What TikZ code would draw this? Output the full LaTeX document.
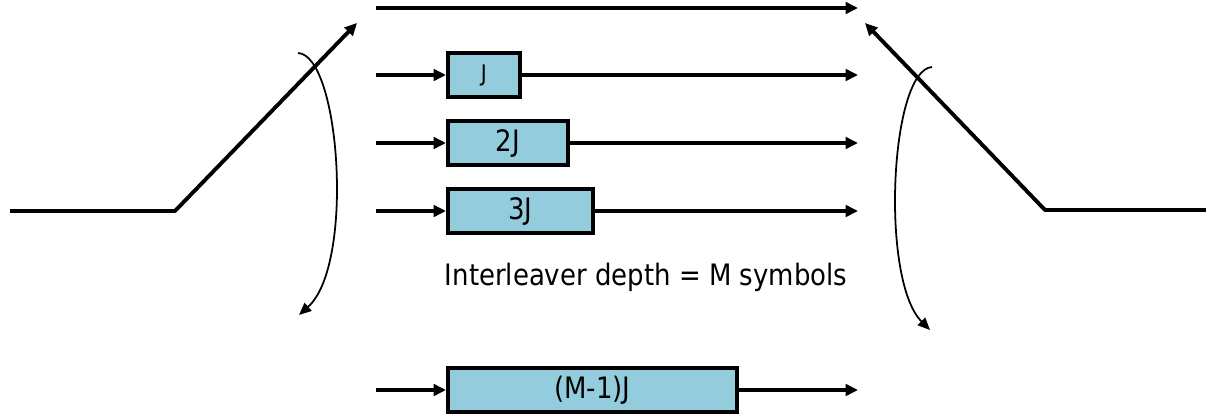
\documentclass[tikz,border=0pt]{standalone}
\usepackage{fontspec}
\setmainfont{DejaVu Sans}[FakeStretch=0.88]
\usepackage{xcolor}
\usepackage{tikz}
\usetikzlibrary{arrows.meta}
\definecolor{delayblue}{HTML}{93CDDD}

\begin{document}
\begin{tikzpicture}[x=0.02cm,y=-0.02cm]
\tikzstyle{every node}=[font=\fontsize{16.8}{19}\selectfont]
\tikzstyle{delay}=[draw, line width=2.2pt, fill=delayblue, minimum height=0.88cm, anchor=west, inner sep=0pt]
\tikzstyle{wire}=[line width=2.2pt, -{Triangle[length=7pt,width=6.5pt]}]
\tikzstyle{sweep}=[line width=1pt, -{Triangle[length=7pt,width=6pt]}]
\useasboundingbox (0,0) rectangle (1206,419);
\coordinate (in0) at (376,8);
\coordinate (in1) at (376,75);
\coordinate (in2) at (376,143);
\coordinate (in3) at (376,211);
\coordinate (inM) at (376,390);
\coordinate (out0) at (858,8);
\coordinate (out1) at (858,75);
\coordinate (out2) at (858,143);
\coordinate (out3) at (858,211);
\coordinate (outM) at (858,390);
\node [delay, minimum width=1.44cm, font=\fontsize{13}{15}\selectfont] (d1) at (446,75) {J};
\node [delay, minimum width=2.4cm] (d2) at (446,143) {2J};
\node [delay, minimum width=2.9cm] (d3) at (446,211) {3J};
\node [delay, minimum width=5.78cm] (dM) at (446,390) {(M-1)J};
\node (depth) at (646,277) {Interleaver depth = M symbols};
\draw [wire] (in0) -- (out0);
\draw [wire] (in1) -- (d1.west);
\draw [wire] (in2) -- (d2.west);
\draw [wire] (in3) -- (d3.west);
\draw [wire] (inM) -- (dM.west);
\draw [wire] (d1.east) -- (out1);
\draw [wire] (d2.east) -- (out2);
\draw [wire] (d3.east) -- (out3);
\draw [wire] (dM.east) -- (outM);
\coordinate (src) at (10,211);
\coordinate (pivL) at (175,211);
\coordinate (armL) at (357,23);
\coordinate (dst) at (1206,210);
\coordinate (pivR) at (1045,210);
\coordinate (armR) at (865,23);
\draw [wire, line join=round] (src) -- (pivL) -- (armL);
\draw [wire, line join=round] (dst) -- (pivR) -- (armR);
\draw [sweep] (298,53) .. controls (340,55) and (355,265) .. (299,315);
\draw [sweep] (932,67) .. controls (890,70) and (880,280) .. (930,330);
\end{tikzpicture}
\end{document}
